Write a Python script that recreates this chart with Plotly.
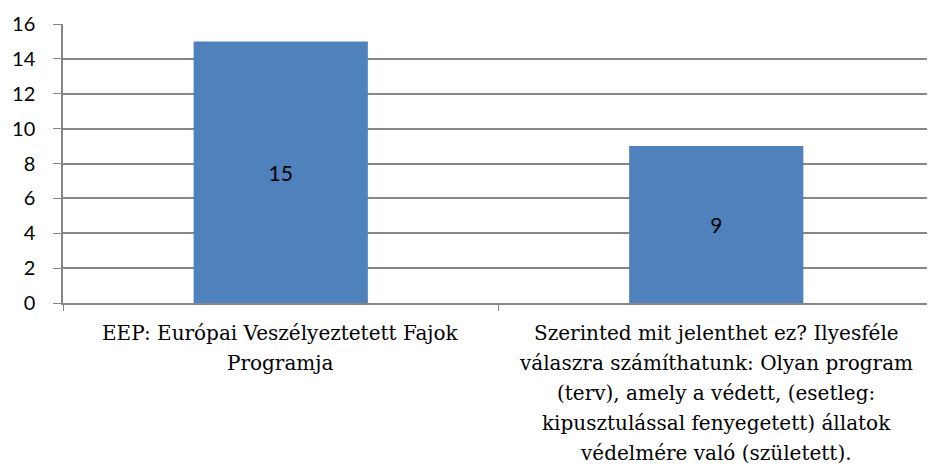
import plotly.graph_objects as go

categories = ["EEP", "Szerinted"]
values = [15, 9]
label_lines = [
    ["EEP: Európai Veszélyeztetett Fajok", "Programja"],
    ["Szerinted mit jelenthet ez? Ilyesféle",
     "válaszra számíthatunk: Olyan program",
     "(terv), amely a védett, (esetleg:",
     "kipusztulással fenyegetett) állatok",
     "védelmére való (született)."],
]
y_ticks = [0, 2, 4, 6, 8, 10, 12, 14, 16]

SERIF = "DejaVu Serif"

fig = go.Figure(go.Bar(
    x=categories, y=values, width=0.4,
    marker=dict(color="#4F81BD", line=dict(width=0)),
    text=[str(v) for v in values], textposition="inside",
    insidetextanchor="middle",
    textfont=dict(family="Lato", size=21, color="black"),
    hoverinfo="skip",
))

annotations = []
for ci, lines in enumerate(label_lines):
    for li, line in enumerate(lines):
        annotations.append(dict(
            x=categories[ci], xref="x", y=0, yref="paper",
            text=line, showarrow=False, xanchor="center", yanchor="middle",
            yshift=-(30 + 30 * li),
            font=dict(family=SERIF, size=20, color="black"),
        ))

# page body has an 8px default margin, so the figure is shrunk to compensate
fig.update_layout(
    width=927, height=460,
    margin=dict(l=55, r=1, t=16, b=165, autoexpand=False),
    paper_bgcolor="white", plot_bgcolor="white",
    showlegend=False,
    font=dict(family=SERIF),
    annotations=annotations,
    xaxis=dict(
        type="category", range=[-0.5, 1.5], showticklabels=False,
        tickson="boundaries", ticks="outside", ticklen=6, tickcolor="#868686",
        showline=True, linecolor="#868686", linewidth=1.5, showgrid=False,
        automargin=False,
    ),
    yaxis=dict(
        range=[0, 16], tickvals=y_ticks, ticks="outside", ticklen=8,
        tickcolor="#868686", showline=True, linecolor="#868686", linewidth=1.5,
        showgrid=True, gridcolor="#868686", gridwidth=1.5, zeroline=False,
        tickfont=dict(family="Lato", size=20, color="black"),
        ticklabelstandoff=14, automargin=False,
    ),
)

fig.write_html("out.html")
